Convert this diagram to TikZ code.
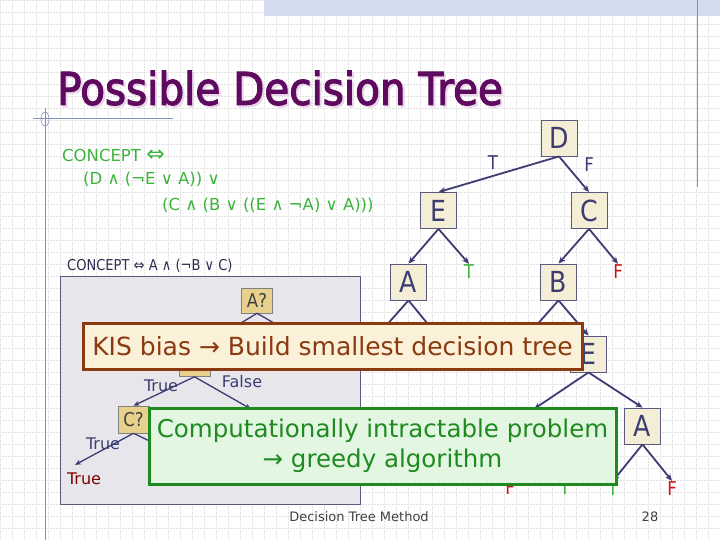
\documentclass[tikz,border=0pt]{standalone}
\usepackage{fontspec}
\setmainfont{DejaVu Sans}
\newfontfamily\narrowfont{DejaVu Sans}[FakeStretch=0.87]
\newfontfamily\titlefont{DejaVu Sans}[FakeStretch=0.90,FakeBold=2.5]
\definecolor{ink}{HTML}{3D3D73}
\definecolor{boxline}{HTML}{5A5A80}
\definecolor{boxfill}{HTML}{F5EED6}
\definecolor{qfill}{HTML}{E7D18C}
\definecolor{panel}{HTML}{E6E6EB}
\definecolor{leafgreen}{HTML}{3DB33D}
\definecolor{leafred}{HTML}{CC1111}
\definecolor{darkred}{HTML}{800000}
\definecolor{conceptgreen}{HTML}{3CB43C}
\definecolor{conceptdark}{HTML}{2E2E50}
\definecolor{kisline}{HTML}{8B3A10}
\definecolor{kisfill}{HTML}{FBF0D8}
\definecolor{greedline}{HTML}{1F8A1F}
\definecolor{greedfill}{HTML}{E2F6E2}
\definecolor{titlec}{HTML}{5E0A5E}
\definecolor{titleshade}{HTML}{EAD6EA}
\definecolor{gridc}{HTML}{E2E2E2}
\definecolor{rulec}{HTML}{8090C0}
\definecolor{bandc}{HTML}{D3DCEE}
\usetikzlibrary{arrows.meta,positioning}
\tikzset{tnode/.style={draw=boxline,fill=boxfill,line width=0.8pt,minimum width=36pt,minimum height=36pt,inner sep=0pt,text=ink,font=\narrowfont\fontsize{29}{29}\selectfont},qnode/.style={draw=gray,fill=qfill,line width=0.6pt,minimum width=31pt,minimum height=25pt,inner sep=0pt,text=darkgray,font=\narrowfont\fontsize{19}{19}\selectfont},edge/.style={-{Stealth[length=7pt,width=6pt]},draw=ink,line width=1.8pt},qedge/.style={-{Stealth[length=6pt,width=5pt]},draw=ink,line width=1.3pt},lbl/.style={text=ink,font=\narrowfont\fontsize{19}{19}\selectfont,inner sep=1pt},qlbl/.style={text=ink,font=\fontsize{16}{16}\selectfont,inner sep=1pt},leaf/.style={font=\narrowfont\fontsize{19}{19}\selectfont,inner sep=1pt},qleaf/.style={font=\fontsize{16}{16}\selectfont,inner sep=1pt},callout/.style={line width=3pt,align=center,inner sep=0pt},concepttext/.style={anchor=west,inner sep=0pt,text=conceptgreen,font=\fontsize{16.5}{16.5}\selectfont},gridline/.style={draw=gridc,densely dotted,line width=0.5pt}}

\begin{document}
\begin{tikzpicture}[x=1pt,y=-1pt]
\useasboundingbox (0,0) rectangle (720,540);
\fill[white] (0,0) rectangle (720,540);
\foreach \g in {0,12,...,720} \draw[gridline] (\g,0)--(\g,540);
\foreach \g in {0,12,...,540} \draw[gridline] (0,\g)--(720,\g);
\fill[bandc] (264,0) rectangle (720,16);
\draw[rulec,line width=1pt] (697,0)--(697,187);
\draw[rulec,line width=1pt] (33,119)--(173,119);
\draw[rulec,line width=1pt] (45,108)--(45,540);
\draw[rulec,line width=0.6pt] (45,119) ellipse (4 and 7);
\node[anchor=west,inner sep=0pt,text=titleshade,font=\titlefont\fontsize{45}{45}\selectfont] (titleshadow) at (59,90) {Possible Decision Tree};
\node[anchor=west,inner sep=0pt,text=titlec,font=\titlefont\fontsize{45}{45}\selectfont] (title) at (57,88) {Possible Decision Tree};
\node[concepttext] (concept) at (62,155) {CONCEPT {\fontsize{22}{17}\selectfont ⇔}};
\node[concepttext] (conceptb) at (83,179) {(D ∧ (¬E ∨ A)) ∨};
\node[concepttext] (conceptc) at (162,205) {(C ∧ (B ∨ ((E ∧ ¬A) ∨ A)))};
\node[anchor=west,inner sep=0pt,text=conceptdark,font=\narrowfont\fontsize{15}{15}\selectfont] (smallconcept) at (67,266) {CONCEPT ⇔ A ∧ (¬B ∨ C)};
\node[tnode] (D) at (559,138) {D};
\node[tnode] (E) at (438.5,210.5) {E};
\node[tnode] (C) at (589,210.5) {C};
\node[tnode] (A) at (408.5,282) {A};
\node[tnode] (B) at (558.5,282) {B};
\node[tnode] (E2) at (588.5,354) {E};
\node[tnode] (A2) at (642.5,426) {A};
\node[lbl] (lblT) at (493,163) {T};
\node[lbl] (lblF) at (589,165) {F};
\node[leaf,text=leafgreen] (leafT) at (469,272) {T};
\node[leaf,text=leafred] (leafF) at (618,272) {F};
\node[leaf,text=leafred] (leafF3) at (510,488) {F};
\node[leaf,text=leafgreen] (leafT3) at (565,488) {T};
\node[leaf,text=leafgreen] (leafT2) at (613,489) {T};
\node[leaf,text=leafred] (leafF2) at (672,489) {F};
\coordinate (aL) at (369,345);
\coordinate (aR) at (445,345);
\coordinate (bL) at (519,345);
\coordinate (hidE) at (534,409);
\draw[edge] (D.south)--(E.north);
\draw[edge] (D.south)--(C.north);
\draw[edge] (E.south)--(A.north);
\draw[edge] (E.south)--(leafT.north);
\draw[edge] (C.south)--(B.north);
\draw[edge] (C.south)--(leafF.north);
\draw[edge] (A.south)--(aL);
\draw[edge] (A.south)--(aR);
\draw[edge] (B.south)--(bL);
\draw[edge] (B.south)--(E2.north);
\draw[edge] (E2.south)--(hidE);
\draw[edge] (E2.south)--(A2.north);
\draw[edge] (A2.south)--(leafT2.north);
\draw[edge] (A2.south)--(leafF2.north);
\draw[fill=panel,draw=boxline,line width=0.8pt] (60,276) rectangle (360,504);
\node[qnode] (Aq) at (257,300.5) {A?};
\node[qnode] (Bq) at (194.5,364) {B?};
\node[qnode,minimum height=27pt] (Cq) at (133.5,419.5) {C?};
\node[qleaf,text=darkred] (falseleaf) at (329,362) {False};
\node[qleaf,text=darkred] (trueleaf) at (84,479) {True};
\node[qlbl] (lblTrueB) at (161,386) {True};
\node[qlbl] (lblFalseB) at (242,382) {False};
\node[qlbl] (lblTrueC) at (103,444) {True};
\coordinate (bqR) at (251,409);
\coordinate (cqR) at (160,446);
\draw[qedge] (Aq.south)--(Bq.north);
\draw[qedge] (Aq.south)--(falseleaf.north);
\draw[qedge] (Bq.south)--(Cq.north);
\draw[qedge] (Bq.south)--(bqR);
\draw[qedge] (Cq.south)--([xshift=-9pt,yshift=7pt]trueleaf.north);
\draw[qedge] (Cq.south)--(cqR);
\node[callout,draw=kisline,fill=kisfill,text=kisline,font=\fontsize{25}{30}\selectfont,minimum width=499pt,minimum height=46pt] (kis) at (332.5,346) {KIS bias → Build smallest decision tree};
\node[callout,draw=greedline,fill=greedfill,text=greedline,font=\fontsize{24.5}{30}\selectfont,minimum width=467pt,minimum height=76pt] (greedy) at (382.5,446) {Computationally intractable problem\\→ greedy algorithm};
\node[text=darkgray,font=\fontsize{13}{13}\selectfont,inner sep=0pt] (footer) at (359,517) {Decision Tree Method};
\node[text=darkgray,font=\fontsize{13}{13}\selectfont,inner sep=0pt] (pagenum) at (650,517) {28};
\end{tikzpicture}
\end{document}
